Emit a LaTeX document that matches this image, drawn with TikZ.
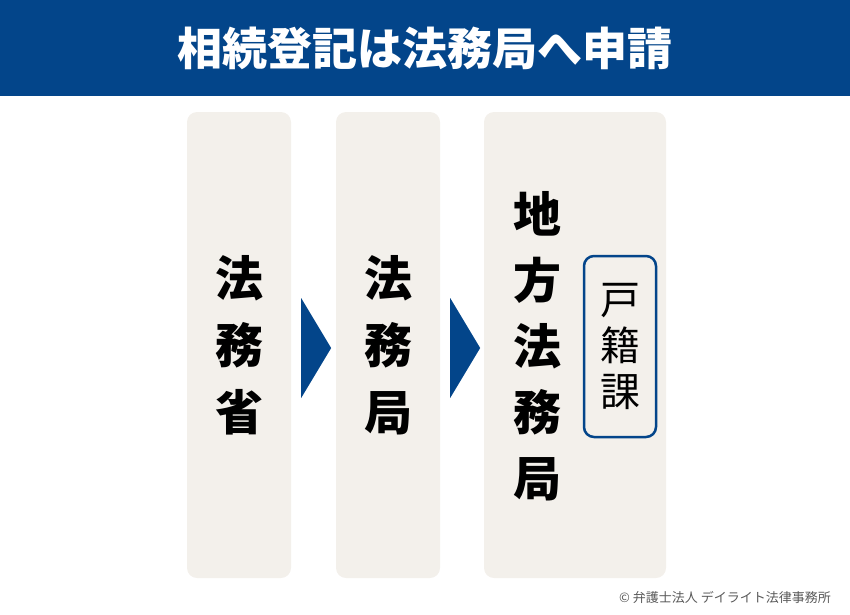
\documentclass[tikz,border=0pt]{standalone}
\usepackage{fontspec}
\setmainfont{Noto Sans CJK JP}
\usepackage{tikz}
\usetikzlibrary{shapes.geometric, positioning}
\usepackage{xcolor}
\definecolor{navy}{HTML}{03458A}
\definecolor{paper}{HTML}{F3F0EB}
\tikzstyle{banner} = [rectangle, minimum width=850pt, minimum height=96pt, inner sep=0pt, fill=navy, text=white, font=\fontsize{45}{45}\selectfont\bfseries]
\tikzstyle{column} = [rectangle, rounded corners=10pt, minimum width=104pt, minimum height=466pt, inner sep=0pt, fill=paper]
\tikzstyle{vtext} = [align=center, inner sep=0pt, font=\fontsize{48}{67}\selectfont\bfseries]
\tikzstyle{section} = [rectangle, rounded corners=10pt, minimum width=72pt, minimum height=181pt, inner sep=0pt, draw=navy, line width=2.5pt, align=center, font=\fontsize{40}{46}\selectfont]
\tikzstyle{chevron} = [isosceles triangle, isosceles triangle stretches=true, minimum width=100pt, minimum height=30pt, inner sep=0pt, fill=navy]

\begin{document}
\begin{tikzpicture}[x=1pt, y=-1pt]
\useasboundingbox (0,0) rectangle (850,614);

% Title
\node (title) [banner] at (425,48) {相続登記は法務局へ申請};

% Columns
\node (moj) [column] at (239,345) {};
\node (bureau) [column] at (388,345) {};
\node (local) [column, minimum width=182pt] at (575,345) {};

\node (moj_txt) [vtext] at (moj) {法\\務\\省};
\node (bureau_txt) [vtext] at (bureau) {法\\務\\局};
\node (local_txt) [vtext, font=\fontsize{48}{66}\selectfont\bfseries] at (537,346) {地\\方\\法\\務\\局};
\node (koseki) [section] at (620,346.5) {戸\\籍\\課};

% Arrows
\node (arr1) [chevron] at (315,348) {};
\node (arr2) [chevron] at (464,348) {};

% Credit
\node (credit) [anchor=east, inner sep=0pt, text=black!65, font=\fontsize{13}{13}\selectfont] at (831,597) {© 弁護士法人 デイライト法律事務所};

\end{tikzpicture}
\end{document}
